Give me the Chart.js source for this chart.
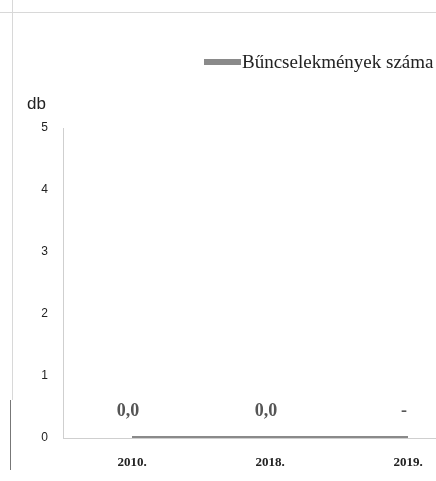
<!DOCTYPE html>
<html lang="hu">
<head>
<meta charset="UTF-8">
<title>Bűncselekmények száma</title>
<script src="https://cdn.jsdelivr.net/npm/chart.js@4.4.0/dist/chart.umd.min.js"></script>
<style>
  html, body { margin: 0; padding: 0; background: #fff; overflow: hidden; }
  #wrap { width: 500px; height: 481px; position: relative; }
</style>
</head>
<body>
<div id="wrap"><canvas id="chart"></canvas></div>
<script>
var years = ['2010.', '2018.', '2019.'];
var crimes = [0, 0, 0];
var valueLabels = ['0,0', '0,0', '-'];
var yTicks = [0, 1, 2, 3, 4, 5];
var seriesName = 'Bűncselekmények száma';
var unit = 'db';

// scan frame + unit + legend + value labels
var extras = {
  id: 'extras',
  beforeDraw: function(chart) {
    var c = chart.ctx;
    c.save();
    c.strokeStyle = '#d8d8d8';
    c.lineWidth = 1;
    c.beginPath();
    c.moveTo(0, 12.5); c.lineTo(436, 12.5);
    c.moveTo(12.5, 0); c.lineTo(12.5, 400);
    c.stroke();
    c.strokeStyle = '#777';
    c.beginPath();
    c.moveTo(10.5, 400); c.lineTo(10.5, 470);
    c.stroke();
    c.restore();
  },
  afterDraw: function(chart) {
    var c = chart.ctx;
    c.save();
    // unit
    c.fillStyle = '#222';
    c.font = '17px "Liberation Sans", sans-serif';
    c.textAlign = 'left';
    c.textBaseline = 'middle';
    c.fillText(unit, 27, 104);
    // legend
    var ds = chart.data.datasets[0];
    c.fillStyle = ds.borderColor;
    c.fillRect(204, 59, 37, 6);
    c.fillStyle = '#222';
    c.font = '19px "Liberation Serif", serif';
    c.fillText(ds.label, 242, 63);
    // value labels
    var meta = chart.getDatasetMeta(0);
    c.font = 'bold 18px "Liberation Serif", serif';
    c.fillStyle = '#555';
    c.textAlign = 'center';
    meta.data.forEach(function(pt, i) {
      c.fillText(valueLabels[i], pt.x - 4, pt.y - 27);
    });
    c.restore();
  }
};

new Chart(document.getElementById('chart'), {
  type: 'line',
  data: {
    labels: years,
    datasets: [{
      label: seriesName,
      data: crimes,
      borderColor: '#8a8a8a',
      backgroundColor: '#8a8a8a',
      borderWidth: 4,
      pointRadius: 0,
      tension: 0
    }]
  },
  options: {
    responsive: true,
    maintainAspectRatio: false,
    animation: false,
    layout: { padding: { left: 0, right: 23, top: 128, bottom: 0 } },
    plugins: {
      legend: { display: false },
      tooltip: { enabled: false }
    },
    scales: {
      x: {
        offset: true,
        grid: { display: false, drawTicks: false },
        border: { color: '#cfcfcf', width: 1 },
        ticks: {
          color: '#222',
          padding: 17,
          font: { family: '"Liberation Serif", serif', weight: 'bold', size: 13 }
        },
        afterFit: function(s) { s.height = 43; }
      },
      y: {
        min: 0,
        max: 5,
        afterBuildTicks: function(s) { s.ticks = yTicks.map(function(v) { return { value: v }; }); },
        grid: { display: false, drawTicks: false },
        border: { color: '#cfcfcf', width: 1 },
        ticks: {
          color: '#222',
          padding: 15,
          font: { family: '"Liberation Sans", sans-serif', size: 12 }
        },
        afterFit: function(s) { s.width = 63; }
      }
    }
  },
  plugins: [extras]
});
</script>
</body>
</html>
